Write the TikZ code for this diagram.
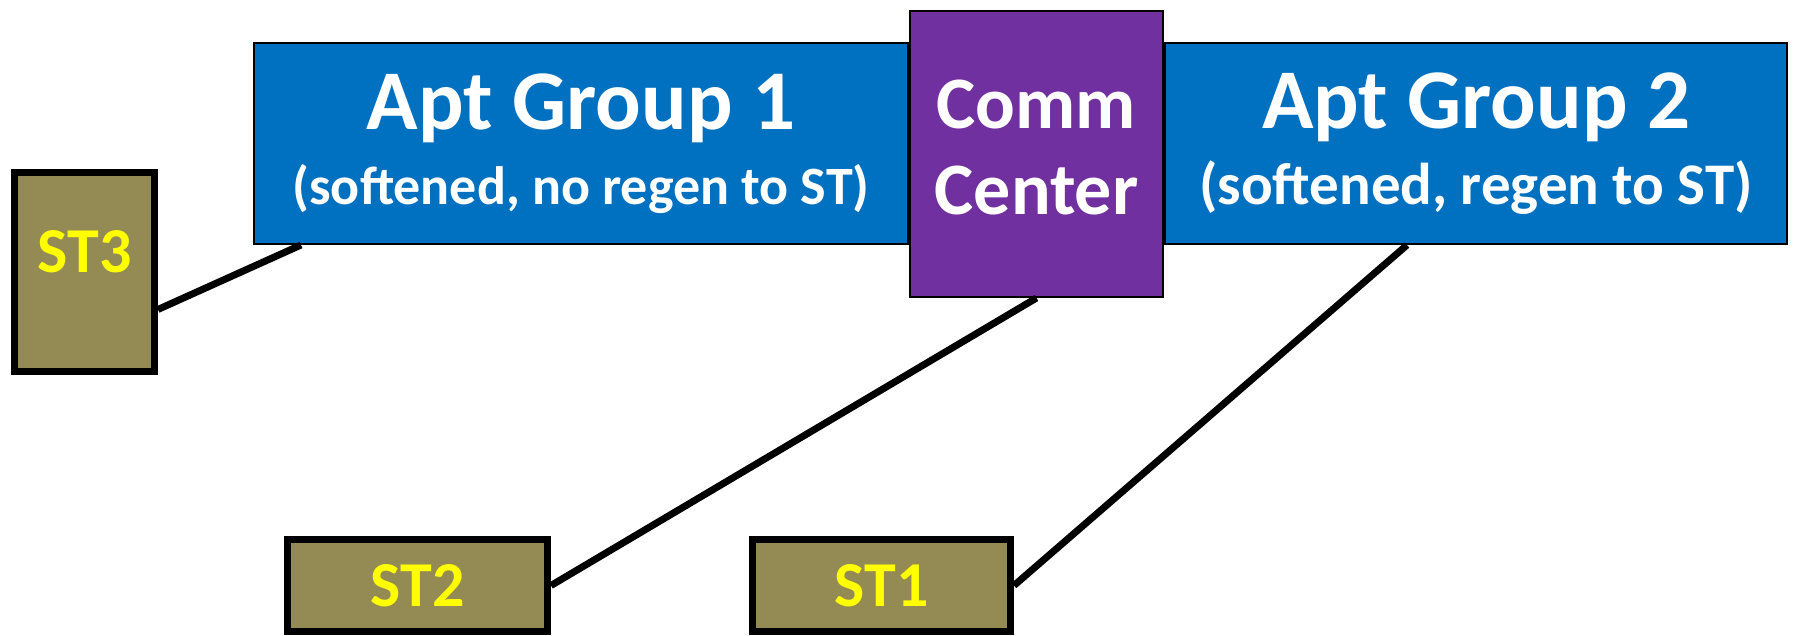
\documentclass[tikz,border=0pt]{standalone}
\usepackage{fontspec}
\setmainfont{Carlito}
\usetikzlibrary{positioning}
\definecolor{aptblue}{HTML}{0070C0}
\definecolor{commpurple}{HTML}{7030A0}
\definecolor{stolive}{HTML}{948A54}
\definecolor{styellow}{HTML}{FFFF00}
\tikzset{
  group/.style={
    draw,
    rectangle,
    line width=2pt,
    fill=aptblue,
    text=white,
    font=\bfseries,
    inner sep=0pt,
    minimum height=201pt,
    align=center
  },
  center/.style={
    draw,
    rectangle,
    line width=2pt,
    fill=commpurple,
    text=white,
    inner sep=0pt,
    minimum width=253pt,
    minimum height=286pt,
    align=center,
    font=\bfseries\fontsize{74}{86}\selectfont
  },
  station/.style={
    draw,
    rectangle,
    line width=7pt,
    fill=stolive,
    text=styellow,
    inner sep=0pt,
    font=\bfseries\fontsize{64}{64}\selectfont
  },
  line/.style={line width=7pt}
}

\begin{document}
\begin{tikzpicture}[x=1pt,y=-1pt]

					\useasboundingbox (0,0) rectangle (1793,635);

					% comm. center and groups
					\node[center, text depth=14pt] (comm_center) at (1036.5,154) {Comm\\Center};
					\node[group, minimum width=654pt, below left=32pt and 0pt of comm_center.north west] (apt_group_one)
						{\fontsize{85}{79}\selectfont Apt Group 1\\[20pt]\fontsize{54}{79}\selectfont (softened, no regen to ST)};
					\node[group, minimum width=622pt, below right=32pt and 0pt of comm_center.north east] (apt_group_two)
						{\fontsize{85}{79}\selectfont Apt Group 2\\[18pt]\fontsize{59}{79}\selectfont (softened, regen to ST)};

					% stations
					\node[station, minimum width=140pt, minimum height=199pt, text depth=40pt] (st_three) at (84.5,272) {ST3};
					\node[station, minimum width=260pt, minimum height=92pt] (st_two) at (417.5,585.5) {ST2};
					\node[station, minimum width=258pt, minimum height=92pt, right = 198pt of st_two] (st_one) {ST1};

					\draw[line] (st_three.-27) -- ([xshift=48pt]apt_group_one.south west);
					\draw[line] (st_two.east) -- (comm_center.south);
					\draw[line] (st_one.east) -- ([xshift=-69pt]apt_group_two.south);

				\end{tikzpicture}
\end{document}
